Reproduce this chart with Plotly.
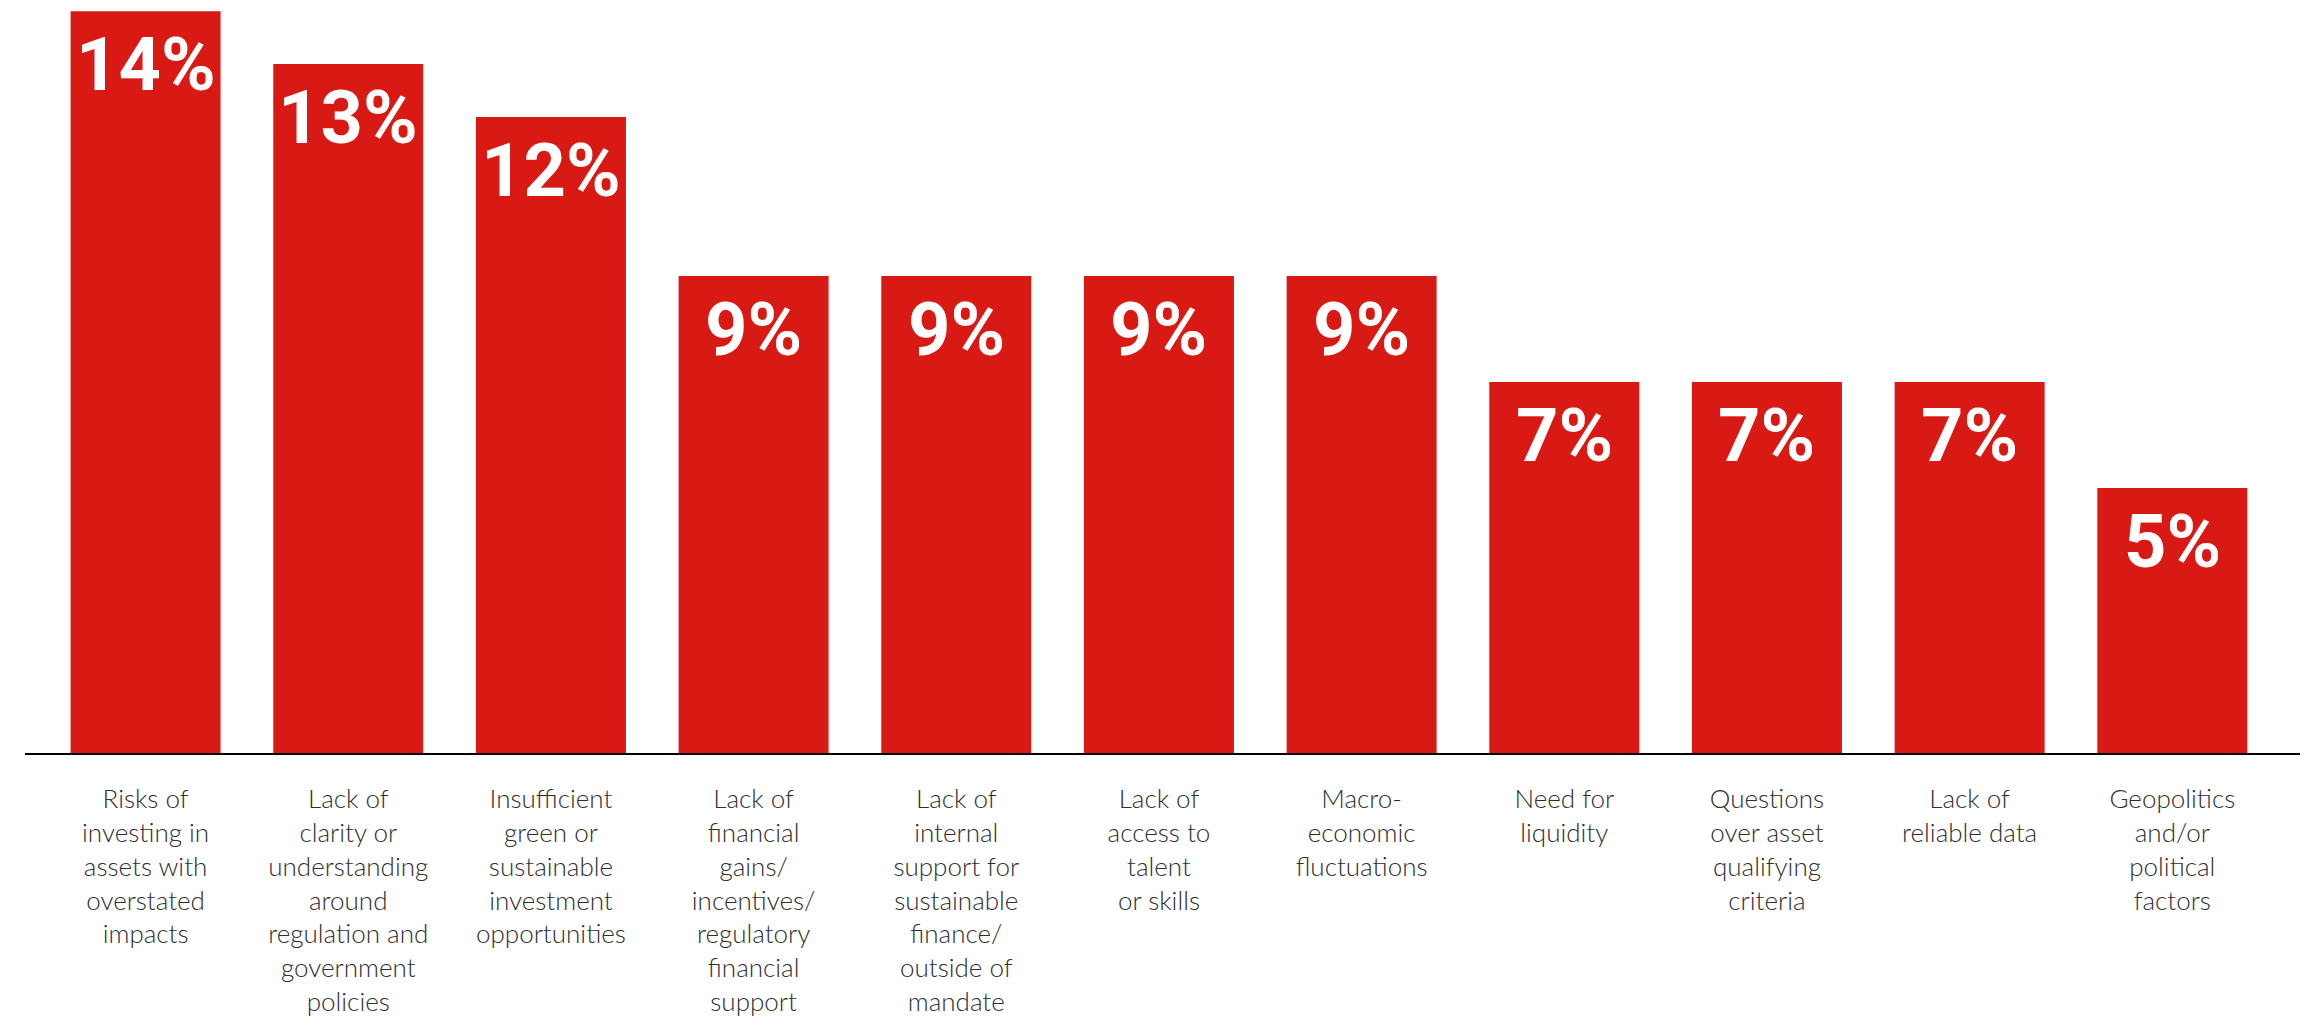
import plotly.graph_objects as go

# Share of respondents citing each barrier
categories = [
    "Risks of<br>investing in<br>assets with<br>overstated<br>impacts",
    "Lack of<br>clarity or<br>understanding<br>around<br>regulation and<br>government<br>policies",
    "Insufficient<br>green or<br>sustainable<br>investment<br>opportunities",
    "Lack of<br>financial<br>gains/<br>incentives/<br>regulatory<br>financial<br>support",
    "Lack of<br>internal<br>support for<br>sustainable<br>finance/<br>outside of<br>mandate",
    "Lack of<br>access to<br>talent<br>or skills",
    "Macro-<br>economic<br>fluctuations",
    "Need for<br>liquidity",
    "Questions<br>over asset<br>qualifying<br>criteria",
    "Lack of<br>reliable data",
    "Geopolitics<br>and/or<br>political<br>factors",
]
values = [14, 13, 12, 9, 9, 9, 9, 7, 7, 7, 5]

RED = "#D91914"
idx = list(range(len(categories)))

fig = go.Figure(
    go.Bar(
        x=idx,
        y=values,
        marker=dict(color=RED, line=dict(width=0)),
        hoverinfo="skip",
    )
)

# Value labels sit just inside the top of each bar
for i, v in zip(idx, values):
    fig.add_annotation(
        x=i, y=v, xref="x", yref="y",
        text=f"{v}%",
        showarrow=False,
        yanchor="top",
        yshift=-8,
        font=dict(family="Roboto", size=74, color="white", weight="bold"),
    )

fig.update_layout(
    width=2306,
    height=1019,
    margin=dict(l=25, r=6, t=0, b=266),
    paper_bgcolor="white",
    plot_bgcolor="white",
    bargap=0.26,
    showlegend=False,
    xaxis=dict(
        range=[-0.595, 10.63],
        tickmode="array",
        tickvals=idx,
        ticktext=categories,
        showline=True,
        linecolor="black",
        linewidth=2,
        ticks="",
        showgrid=False,
        zeroline=False,
        ticklabelstandoff=22,
        tickfont=dict(family="Lato", size=26, color="#2e2e2e", weight=300),
        fixedrange=True,
    ),
    yaxis=dict(
        range=[0, 14.21],
        visible=False,
        showgrid=False,
        zeroline=False,
        fixedrange=True,
    ),
)

fig.write_html("out.html")
